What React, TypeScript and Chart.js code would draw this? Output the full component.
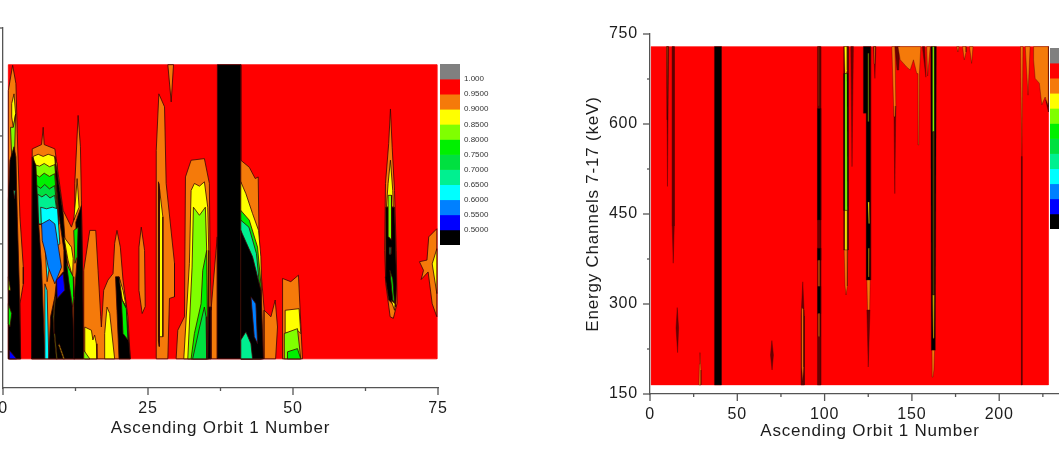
import React, { useEffect, useRef } from "react";
import { Chart, registerables } from "chart.js";

Chart.register(...registerables);

type Pt = [number, number];
type Region = [string, Pt[]];

const palette: Record<string, string> = {
  grey: "#808080", red: "#ff0000", orange: "#f57a0a", yellow: "#ffff00", lime: "#80ff00", green: "#00f000",
  green2: "#00e040", spring: "#00f090", cyan: "#00ffff", sky: "#0080ff", blue: "#0000ff", black: "#000000",
  maroon: "#6a0000", olive: "#4a4a00",
};

const barLevels = ["grey", "red", "orange", "yellow", "lime", "green", "green2", "spring", "cyan", "sky", "blue", "black"];
const barEdges = [1.05, 1.0, 0.95, 0.9, 0.85, 0.8, 0.75, 0.7, 0.65, 0.6, 0.55, 0.5, 0.45];
const barTicks = [1.0, 0.95, 0.9, 0.85, 0.8, 0.75, 0.7, 0.65, 0.6, 0.55, 0.5];
const barLabels = ["1.000", "0.9500", "0.9000", "0.8500", "0.8000", "0.7500", "0.7000", "0.6500", "0.6000", "0.5500", "0.5000"];

const leftXMajor = [0, 25, 50, 75];
const leftXMinor = [12.5, 37.5, 62.5];
const leftYMajor = [100, 200, 300, 400, 500, 600, 700];
const rightXMajor = [0, 50, 100, 150, 200];
const rightXMinor = [25, 75, 125, 175, 225];
const rightYMajor = [150, 300, 450, 600, 750];
const rightYMinor = [225, 375, 525, 675];

const xTitle = "Ascending Orbit 1 Number";
const rightYTitle = "Energy Channels 7-17 (keV)";

const leftRegions: Region[] = [
  ["red", [[0.92, 632], [74.8, 632], [74.8, 87], [0.92, 87]]],
  ["orange", [[0.92, 584], [1.66, 631], [2.23, 597], [2.46, 504], [2.92, 350], [3.5, 257], [3.5, 226], [2.92, 189], [3.04, 87], [0.92, 87]]],
  ["yellow", [[1.5, 560], [1.9, 578], [2.18, 541], [1.78, 516], [1.5, 535]]],
  ["lime", [[1.3, 516], [1.78, 516], [2.18, 541], [2.0, 473], [1.5, 461]]],
  ["black", [[0.92, 381], [1.2, 455], [1.9, 480], [2.23, 461], [2.46, 350], [2.8, 226], [3.04, 87], [0.92, 87]]],
  ["lime", [[0.92, 239], [1.3, 214], [0.92, 214]]],
  ["green", [[0.92, 189], [1.5, 171], [1.2, 146], [0.92, 152]]],
  ["blue", [[1.09, 103], [2.35, 87], [1.09, 87]]],
  ["spring", [[1.8, 399], [2.1, 399], [2.0, 384]]],
  ["orange", [[5.04, 476], [6.65, 484], [6.93, 516], [7.1, 484], [8.94, 476], [10.37, 362], [11.8, 331], [12.38, 350], [12.38, 412], [12.95, 538], [13.35, 480], [13.52, 381], [13.7, 257], [13.92, 87], [4.93, 87]]],
  ["yellow", [[5.2, 462], [6.07, 466], [6.93, 462], [7.79, 466], [8.94, 462], [9.3, 449], [9.6, 337], [6.07, 337], [5.4, 449]]],
  ["lime", [[5.3, 447], [6.3, 444], [7.1, 449], [8, 443], [8.94, 447], [9.6, 337], [6.07, 337]]],
  ["green", [[5.4, 430], [6.3, 424], [7.1, 431], [8, 425], [8.9, 430], [9.6, 337], [6.07, 337]]],
  ["green2", [[5.7, 409], [6.5, 403], [7.2, 410], [8, 402], [8.9, 408], [9.6, 337], [6.07, 337]]],
  ["spring", [[6, 392], [6.7, 387], [7.4, 392], [8.1, 385], [8.9, 390], [9.6, 337], [6.07, 337]]],
  ["cyan", [[6.5, 368], [7.5, 365], [8.5, 368], [9.4, 365], [9.8, 300], [8.5, 290], [7.6, 230], [7.2, 305], [6.6, 340]]],
  ["sky", [[6.65, 337], [8, 345], [8.94, 337], [10.08, 257], [8.94, 226], [7.79, 257], [7.22, 288], [6.77, 306]]],
  ["black", [[5.04, 461], [5.67, 446], [6.07, 350], [6.65, 257], [7.22, 87], [4.93, 87]]],
  ["cyan", [[7.22, 226], [7.6, 214], [7.9, 87], [7.22, 87]]],
  ["black", [[8.94, 462], [10.37, 356], [10.83, 288], [11.98, 183], [12.38, 87], [7.9, 87], [8.2, 165], [8.94, 202], [9.23, 233], [10.37, 248], [10.5, 288], [9.68, 350], [9.1, 424]]],
  ["black", [[12.55, 340], [13.52, 371], [13.7, 257], [13.92, 87], [12.2, 87], [12.2, 189], [12.8, 276]]],
  ["blue", [[9.23, 233], [10.37, 245], [10.66, 214], [9.34, 199]]],
  ["lime", [[8.94, 202], [8.65, 165], [8.8, 134], [9.2, 87], [9.35, 87], [8.95, 134], [8.8, 165], [9.05, 202]]],
  ["yellow", [[9.7, 115], [10.6, 87], [10.4, 87], [9.6, 112]]],
  ["yellow", [[10.5, 313], [11.8, 294], [12.1, 273], [12, 239], [11.2, 270]]],
  ["green", [[10.94, 264], [12.1, 239], [12.2, 202], [12, 183], [11.4, 226]]],
  ["yellow", [[12.78, 421], [13.12, 368], [12.2, 344], [12.55, 387]]],
  ["green", [[12.2, 325], [12.95, 331], [12.8, 276], [12.4, 264]]],
  ["orange", [[13.92, 87], [13.92, 251], [14.96, 325], [15.99, 325], [16.39, 251], [16.85, 165], [16.96, 146], [17.36, 214], [18.1, 233], [18.97, 245], [19.25, 301], [19.65, 325], [20.23, 294], [20.69, 233], [21.54, 165], [21.95, 87]]],
  ["yellow", [[14.1, 146], [15.24, 140], [15.5, 122], [15.8, 131], [16.1, 115], [16.2, 87], [14.1, 87]]],
  ["lime", [[13.92, 103], [14.96, 87], [13.92, 87]]],
  ["yellow", [[17.53, 134], [17.93, 183], [18.4, 171], [19.25, 87], [17.53, 87]]],
  ["black", [[19.4, 239], [20, 239], [21.26, 177], [21.95, 87], [20, 87], [19.65, 177]]],
  ["yellow", [[20, 239], [20.69, 214], [21.26, 183], [20.57, 196]]],
  ["green", [[20.4, 199], [21.26, 180], [21.54, 122], [20.69, 134]]],
  ["orange", [[23.44, 294], [23.84, 331], [24.41, 288], [24.52, 184], [24, 171], [23.44, 214]]],
  ["orange", [[26.42, 87], [26.42, 473], [26.87, 578], [27.85, 554], [28.13, 412], [29.57, 264], [29.57, 202], [28.7, 199], [28.42, 87]]],
  ["yellow", [[26.87, 412], [27.56, 350], [27.56, 128], [26.87, 128]]],
  ["black", [[26.8, 415], [27, 400], [26.95, 110], [26.8, 120]]],
  ["orange", [[28.42, 632], [29.4, 632], [29, 563]]],
  ["orange", [[29.85, 87], [30.14, 140], [31.29, 165], [31.46, 424], [32.43, 455], [34.72, 458], [35.58, 412], [35.69, 288], [35.87, 177], [36.73, 288], [36.96, 313], [36.96, 87]]],
  ["yellow", [[31.17, 87], [32.14, 264], [32.43, 399], [33, 412], [33.87, 407], [34.72, 415], [35.3, 368], [35.47, 288], [35.47, 87]]],
  ["lime", [[31.86, 87], [32.6, 257], [32.83, 368], [33.87, 353], [34.89, 368], [35.12, 288], [35.3, 87]]],
  ["green", [[32.43, 87], [33, 134], [34.15, 189], [34.44, 251], [35.12, 288], [35.3, 87]]],
  ["green2", [[32.7, 87], [33.9, 146], [34.72, 183], [35, 165], [35.12, 87]]],
  ["black", [[35.3, 87], [35.47, 183], [35.87, 183], [35.87, 87]]],
  ["black", [[36.96, 632], [41, 632], [41, 87], [36.96, 87]]],
  ["orange", [[41, 455], [42.46, 442], [43.49, 421], [44, 424], [44.18, 288], [45.04, 177], [45.04, 87], [41, 87]]],
  ["yellow", [[41, 415], [41.88, 393], [43.03, 356], [44.06, 325], [44.46, 276], [44.75, 87], [41, 87]]],
  ["green", [[41, 362], [42.46, 344], [43.89, 294], [44.46, 226], [44.6, 87], [41, 87]]],
  ["spring", [[41, 344], [42.4, 331], [43.7, 282], [44.3, 214], [44.46, 87], [41, 87]]],
  ["black", [[41, 325], [43.03, 276], [44.46, 214], [44.9, 87], [41, 87]]],
  ["sky", [[42.75, 202], [43.6, 189], [43.89, 115], [43.32, 128]]],
  ["spring", [[41, 122], [41.88, 137], [42.75, 115], [43.03, 87], [41, 87]]],
  ["orange", [[45.04, 177], [46.2, 165], [46.93, 196], [47.33, 146], [47, 87], [45.04, 87]]],
  ["orange", [[48.2, 87], [48.2, 236], [49.62, 230], [50.94, 242], [51.63, 87]]],
  ["yellow", [[48.65, 177], [51.05, 180], [51.34, 134], [50.77, 140], [48.7, 134]]],
  ["lime", [[48.5, 134], [50.77, 143], [51.34, 87], [48.5, 87]]],
  ["green", [[49.05, 87], [49.05, 100], [50.77, 106], [51.34, 87]]],
  ["orange", [[66.8, 550], [67.1, 479], [67.5, 399], [67.8, 288], [67.95, 190], [67.3, 162], [66.75, 165], [66, 226], [65.8, 288], [65.95, 412], [66.5, 486]]],
  ["yellow", [[66.8, 455], [67.2, 399], [67.3, 368], [66.1, 368], [66.4, 412]]],
  ["black", [[66, 368], [67.5, 368], [67.85, 226], [67.7, 183], [66.5, 196], [65.9, 239]]],
  ["lime", [[66.4, 390], [67, 390], [67, 307], [66.5, 313]]],
  ["spring", [[66.6, 294], [66.95, 294], [66.9, 281], [66.6, 281]]],
  ["green", [[66.7, 251], [67.2, 235], [67.5, 190], [67.2, 196]]],
  ["yellow", [[66.9, 196], [67.6, 189], [67.5, 177]]],
  ["orange", [[74.8, 328], [73.4, 313], [73.1, 270], [71.8, 267], [72.5, 251], [72.1, 234], [73.3, 248], [74, 189], [74.8, 165]]],
  ["yellow", [[74.8, 291], [74, 263], [74.8, 208]]],
];

const rightRegions: Region[] = [
  ["red", [[0.6, 729], [228.2, 729], [228.2, 165], [0.6, 165]]],
  ["maroon", [[9.55, 729], [10.7, 729], [10, 496]]],
  ["orange", [[9.55, 729], [10.3, 729], [9.9, 607]]],
  ["maroon", [[12.6, 729], [13.9, 729], [13.9, 430], [13.3, 368], [12.7, 430]]],
  ["black", [[36.9, 729], [40.9, 729], [40.9, 165], [36.9, 165]]],
  ["maroon", [[15.6, 294], [16.4, 260], [15.8, 219], [14.9, 260]]],
  ["orange", [[28, 165], [28.3, 200], [28.6, 219], [29.2, 190], [29.2, 165]]],
  ["maroon", [[69.8, 239], [70.7, 215], [69.9, 190], [69, 215]]],
  ["maroon", [[87.5, 337], [88.4, 280], [88.4, 165], [86.5, 165], [86.5, 280]]],
  ["orange", [[86.9, 295], [88, 290], [88, 195], [87.4, 170], [86.9, 195]]],
  ["maroon", [[95.9, 729], [97.8, 729], [97.8, 165], [95.9, 165]]],
  ["orange", [[96.6, 729], [97, 729], [97, 630], [96.6, 630]]],
  ["black", [[95.9, 626], [97.8, 626], [97.8, 440], [95.9, 440]]],
  ["black", [[95.9, 393], [97.8, 393], [97.8, 373], [95.9, 373]]],
  ["orange", [[96.4, 373], [97.3, 373], [97.3, 329], [96.4, 329]]],
  ["black", [[96, 329], [97.7, 329], [97.7, 284], [96, 284]]],
  ["orange", [[96.4, 284], [97.3, 284], [97.3, 246], [96.4, 246]]],
  ["maroon", [[110.9, 729], [113.6, 729], [113.6, 390], [110.9, 390]]],
  ["yellow", [[111.3, 729], [112.9, 729], [112.9, 690], [112.5, 684], [111.7, 684]]],
  ["black", [[110.9, 684], [113.4, 684], [113.4, 456], [110.9, 456]]],
  ["lime", [[111.6, 684], [112.8, 684], [113, 456], [111.6, 456]]],
  ["yellow", [[111.6, 456], [113, 456], [113, 390], [111.6, 390]]],
  ["orange", [[111.2, 390], [113.3, 390], [113, 330], [112.3, 315], [111.7, 330]]],
  ["maroon", [[115, 729], [116.5, 729], [115.7, 529]]],
  ["black", [[122.2, 729], [126.4, 729], [126.4, 340], [123.9, 340], [123.8, 618], [122.2, 618]]],
  ["lime", [[124.8, 718], [125.4, 718], [125.4, 604], [124.8, 604]]],
  ["yellow", [[124.8, 470], [125.6, 470], [125.9, 434], [125.2, 434]]],
  ["yellow", [[125, 393], [125.6, 393], [125.5, 345], [125, 345]]],
  ["orange", [[124.2, 340], [126.1, 340], [125.8, 290], [125.2, 270], [124.6, 290]]],
  ["maroon", [[124.2, 290], [126, 290], [125, 195]]],
  ["maroon", [[128, 729], [129.4, 729], [128.8, 676]]],
  ["orange", [[128.3, 729], [129, 729], [128.7, 700]]],
  ["maroon", [[139.7, 630], [140.8, 630], [140.2, 484]]],
  ["orange", [[138.5, 729], [140.3, 729], [140.8, 630], [140.5, 612], [139.7, 612]]],
  ["maroon", [[140.3, 729], [143, 729], [142.5, 690], [141.5, 690]]],
  ["orange", [[142, 729], [155.1, 729], [154.3, 684], [153.9, 565], [153.5, 684], [152.8, 684], [150.9, 707], [149, 690], [147, 695], [145.2, 701], [143.3, 707]]],
  ["maroon", [[156, 729], [157.3, 729], [158, 678]]],
  ["orange", [[158.5, 729], [160.5, 729], [159, 680]]],
  ["black", [[160.8, 729], [164, 729], [163.4, 223], [161.1, 223]]],
  ["lime", [[161.8, 729], [162.8, 729], [162.9, 587], [161.9, 587]]],
  ["olive", [[161.9, 587], [162.9, 587], [162.9, 315], [161.9, 315]]],
  ["yellow", [[161.9, 315], [162.9, 315], [162.7, 243], [162.1, 243]]],
  ["orange", [[161.5, 223], [163, 223], [162.6, 190], [162, 178], [161.6, 190]]],
  ["orange", [[175.7, 729], [177, 729], [176.3, 720]]],
  ["orange", [[179, 729], [181, 729], [181, 720], [180, 707]]],
  ["orange", [[183, 729], [185, 729], [184.2, 701]]],
  ["orange", [[212.2, 729], [213.6, 729], [213, 546], [212.7, 546]]],
  ["maroon", [[212.7, 546], [213.1, 546], [213.1, 165], [212.8, 165]]],
  ["orange", [[214.9, 729], [217.7, 729], [216.5, 648]]],
  ["maroon", [[226.6, 640], [228.2, 635], [228.2, 620]]],
  ["orange", [[219.7, 729], [228.2, 729], [228.2, 629], [226.3, 645], [224.4, 632], [223, 668], [220.6, 676], [219.7, 707]]],
];

const fontName = '"Liberation Sans", Arial, sans-serif';
const inkColor = "#1c1c1c";
const axisColor = "#555555";

const tickMarks = {
  id: "tickMarks",
  beforeDraw(chart: any) {
    chart.ctx.letterSpacing = "0.8px";
  },
  afterDraw(chart: any, _a: any, opts: any) {
    const { ctx, scales } = chart;
    ctx.save();
    ctx.strokeStyle = axisColor;
    ctx.lineWidth = 1.3;
    const { xMajor = [], xMinor = [], yMajor = [], yMinor = [] } = opts;
    const tick = (a: number, b: number, c: number, d: number) => {
      ctx.beginPath();
      ctx.moveTo(a, b);
      ctx.lineTo(c, d);
      ctx.stroke();
    };
    const bottom = scales.y.bottom;
    const left = scales.x.left;
    for (const v of xMajor) { const p = scales.x.getPixelForValue(v); tick(p, bottom, p, bottom + 7); }
    for (const v of xMinor) { const p = scales.x.getPixelForValue(v); tick(p, bottom, p, bottom + 3); }
    for (const v of yMajor) { const p = scales.y.getPixelForValue(v); tick(left, p, left - 7, p); }
    for (const v of yMinor) { const p = scales.y.getPixelForValue(v); tick(left, p, left - 3, p); }
    ctx.restore();
  },
};

function regionDatasets(regions: Region[], outline: number) {
  return regions.map(([level, pts], i) => ({
    data: [...pts, pts[0]].map(([x, y]) => ({ x, y })),
    showLine: true,
    fill: "shape",
    tension: 0,
    pointRadius: 0,
    backgroundColor: palette[level],
    borderColor: level === "red" ? "#ff0000" : "#3a0505",
    borderWidth: outline,
    order: regions.length - i,
  }));
}

function useChart(build: (c: HTMLCanvasElement) => any) {
  const ref = useRef<HTMLCanvasElement | null>(null);
  useEffect(() => {
    const chart = new Chart(ref.current as HTMLCanvasElement, build(ref.current as HTMLCanvasElement));
    return () => chart.destroy();
  }, []);
  return ref;
}

type PanelProps = {
  regions: Region[]; outline: number; xMax: number; yMin: number; yMax: number;
  xMajor: number[]; xMinor: number[]; yMajor: number[]; yMinor: number[];
  yTitle?: string; yLabels: boolean;
  left: number; width: number; padLeft: number; padRight: number; padTop: number; padBottom: number;
  yWidth: number; xHeight: number;
};

function Panel(p: PanelProps) {
  const ref = useChart(() => ({
    type: "scatter",
    data: { datasets: regionDatasets(p.regions, p.outline) },
    plugins: [tickMarks],
    options: {
      animation: false,
      responsive: false,
      devicePixelRatio: 1,
      layout: { autoPadding: false, padding: { left: p.padLeft, right: p.padRight, top: p.padTop, bottom: p.padBottom } },
      plugins: {
        legend: { display: false },
        tooltip: { enabled: false },
        tickMarks: { xMajor: p.xMajor, xMinor: p.xMinor, yMajor: p.yMajor, yMinor: p.yMinor },
      },
      scales: {
        x: {
          type: "linear", min: 0, max: p.xMax,
          grid: { display: false, drawTicks: false },
          border: { display: true, color: axisColor, width: 1.3 },
          afterBuildTicks: (s: any) => { s.ticks = p.xMajor.map((value) => ({ value })); },
          afterFit: (s: any) => { s.height = p.xHeight; },
          ticks: { autoSkip: false, maxRotation: 0, padding: 11, color: inkColor, font: { family: fontName, size: 16 }, callback: (v: number) => String(v) },
          title: { display: true, text: xTitle, color: inkColor, font: { family: fontName, size: 17 }, padding: 0 },
        },
        y: {
          type: "linear", min: p.yMin, max: p.yMax,
          grid: { display: false, drawTicks: false },
          border: { display: true, color: axisColor, width: 1.3 },
          afterBuildTicks: (s: any) => { s.ticks = p.yMajor.map((value) => ({ value })); },
          afterFit: (s: any) => { s.width = p.yWidth; },
          ticks: { display: p.yLabels, autoSkip: false, padding: 12, color: inkColor, font: { family: fontName, size: 16 }, callback: (v: number) => String(v) },
          title: { display: !!p.yTitle, text: p.yTitle, color: inkColor, font: { family: fontName, size: 17 }, padding: 0 },
        },
      },
    },
  }));
  return <canvas ref={ref} width={p.width} height={449} style={{ position: "absolute", left: p.left, top: 0, display: "block" }} />;
}

function ColorBar({ left, top, width, labels }: { left: number; top: number; width: number; labels: boolean }) {
  const ref = useChart(() => ({
    type: "bar",
    data: {
      labels: ["level"],
      datasets: barLevels.map((level, i) => ({
        data: [[barEdges[i + 1], barEdges[i]]],
        backgroundColor: palette[level],
        borderWidth: 0,
        grouped: false,
        barPercentage: 1,
        categoryPercentage: 1,
      })),
    },
    options: {
      animation: false,
      responsive: false,
      devicePixelRatio: 1,
      layout: { autoPadding: false, padding: { top: 12, bottom: 12, left: 0, right: 0 } },
      plugins: { legend: { display: false }, tooltip: { enabled: false } },
      scales: {
        x: { display: false },
        y: {
          display: true,
          position: "right",
          min: barEdges[barEdges.length - 1],
          max: barEdges[0],
          grid: { display: false, drawTicks: false },
          border: { display: false },
          afterBuildTicks: (s: any) => { s.ticks = barTicks.map((value) => ({ value })); },
          afterFit: (s: any) => { s.width = labels ? 36 : 0; },
          ticks: {
            display: labels,
            autoSkip: false, padding: 4, color: "#333333", font: { family: fontName, size: 8 },
            callback: (_v: number, i: number) => barLabels[i],
          },
        },
      },
    },
  }));
  return <canvas ref={ref} width={width} height={205} style={{ position: "absolute", left, top: top - 12, display: "block" }} />;
}

export default function App() {
  return (
    <div style={{ position: "fixed", left: 0, top: 0, width: 1059, height: 449, overflow: "hidden", background: "#ffffff" }}>
      <Panel
        regions={leftRegions} outline={0.8} xMax={75} yMin={33} yMax={700}
        xMajor={leftXMajor} xMinor={leftXMinor} yMajor={leftYMajor} yMinor={[]}
        yLabels={false}
        left={-20} width={550} padLeft={23} padRight={92} padTop={28} padBottom={10} yWidth={0} xHeight={51}
      />
      <ColorBar left={440} top={64} width={56} labels={true} />
      <Panel
        regions={rightRegions} outline={0.35} xMax={252} yMin={150} yMax={750}
        xMajor={rightXMajor} xMinor={rightXMinor} yMajor={rightYMajor} yMinor={rightYMinor}
        yTitle={rightYTitle} yLabels={true}
        left={530} width={600} padLeft={53} padRight={40} padTop={34} padBottom={7} yWidth={67} xHeight={48}
      />
      <ColorBar left={1050} top={48} width={20} labels={false} />
    </div>
  );
}
